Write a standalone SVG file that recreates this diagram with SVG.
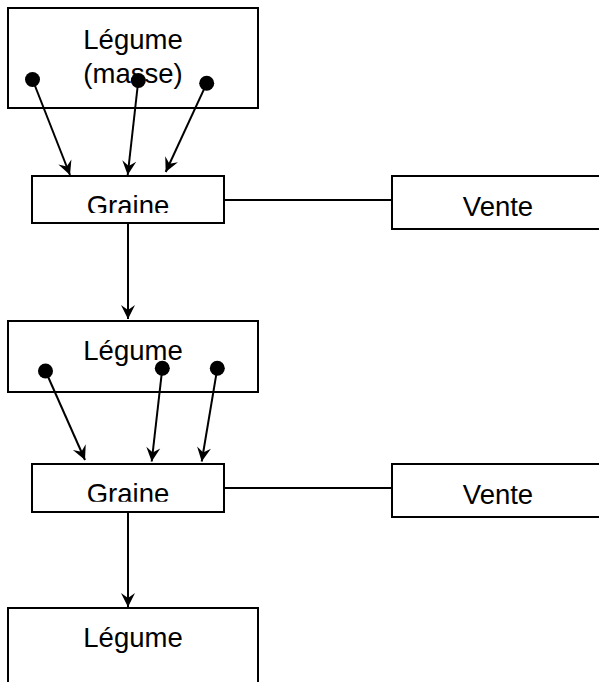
<svg xmlns="http://www.w3.org/2000/svg" width="599" height="682" viewBox="0 0 599 682">
<style>
.box{fill:#fff;stroke:#000;stroke-width:2}
.t{font-family:"Liberation Sans",Arial,sans-serif;font-size:27.5px;fill:#000;text-anchor:middle}
.ln{stroke:#000;stroke-width:2;fill:none}
.arr{stroke:#000;stroke-width:2;fill:none;marker-end:url(#ah)}
.dot{fill:#000}
</style>
<defs>
<marker id="ah" markerUnits="userSpaceOnUse" markerWidth="20" markerHeight="20" viewBox="-16 -10 20 20" refX="0" refY="0" orient="auto">
<path d="M0,0 L-14,-7 L-9,0 L-14,7 z" fill="#000"/>
</marker>
<clipPath id="c1"><rect x="32" y="176" width="192" height="37"/></clipPath>
<clipPath id="c2"><rect x="32" y="464" width="192" height="37.7"/></clipPath>
</defs>

<g id="legume1">
<rect class="box" x="8" y="8" width="250" height="100"/>
<text class="t" x="133" y="49">Légume</text>
<text class="t" x="133" y="83">(masse)</text>
</g>
<g id="graine1">
<rect class="box" x="32" y="176" width="192" height="47"/>
<text class="t" x="128" y="214.5" clip-path="url(#c1)">Graine</text>
</g>
<g id="vente1">
<rect class="box" x="392" y="176" width="212" height="53"/>
<text class="t" x="498" y="215.5">Vente</text>
</g>
<g id="legume2">
<rect class="box" x="8" y="321" width="250" height="71"/>
<text class="t" x="133" y="360">Légume</text>
</g>
<g id="graine2">
<rect class="box" x="32" y="464" width="192" height="48"/>
<text class="t" x="128" y="502.8" clip-path="url(#c2)">Graine</text>
</g>
<g id="vente2">
<rect class="box" x="392" y="464" width="212" height="53"/>
<text class="t" x="498" y="504.3">Vente</text>
</g>
<g id="legume3">
<rect class="box" x="8" y="608" width="250" height="80"/>
<text class="t" x="133" y="647">Légume</text>
</g>

<g id="connectors">
<line class="arr" x1="32.5" y1="79.5" x2="70" y2="175"/>
<line class="arr" x1="138.3" y1="80.5" x2="127.7" y2="175"/>
<line class="arr" x1="206.7" y1="83.3" x2="165.7" y2="172"/>
<circle class="dot" cx="32.5" cy="79.5" r="7.5"/>
<circle class="dot" cx="138.3" cy="80.5" r="7.5"/>
<circle class="dot" cx="206.7" cy="83.3" r="7.5"/>
<line class="ln" x1="224" y1="200" x2="392" y2="200"/>
<line class="arr" x1="128" y1="223" x2="128" y2="319"/>
<line class="arr" x1="45.5" y1="371" x2="85" y2="460"/>
<line class="arr" x1="162.3" y1="368.3" x2="151.7" y2="461.5"/>
<line class="arr" x1="217.3" y1="368.3" x2="201.7" y2="461.5"/>
<circle class="dot" cx="45.5" cy="371" r="7.5"/>
<circle class="dot" cx="162.3" cy="368.3" r="7.5"/>
<circle class="dot" cx="217.3" cy="368.3" r="7.5"/>
<line class="ln" x1="224" y1="488" x2="392" y2="488"/>
<line class="arr" x1="128" y1="512" x2="128" y2="607"/>
</g>
</svg>
